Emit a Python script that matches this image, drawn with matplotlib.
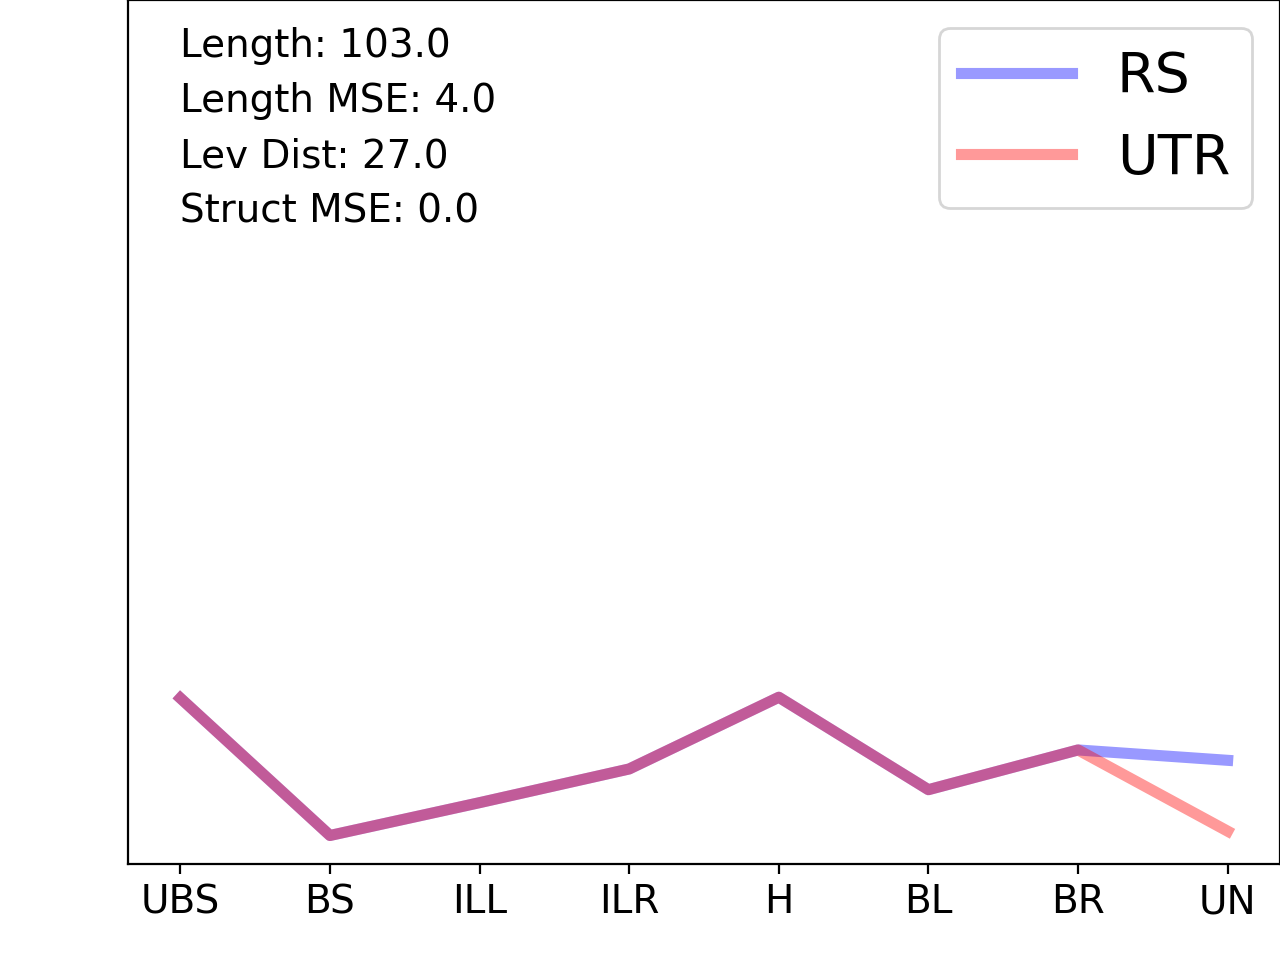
import numpy as np
import matplotlib
matplotlib.use("Agg")
import matplotlib.pyplot as plt

# ─── DATA ─────────────────────────────────────────────────────
categories = ["UBS", "BS", "ILL", "ILR", "H", "BL", "BR", "UN"]
rs_values  = [0.192, 0.033, 0.071, 0.110, 0.193, 0.086, 0.132, 0.120]
utr_values = [0.192, 0.033, 0.071, 0.110, 0.193, 0.086, 0.132, 0.038]

stats_text = "Length: 103.0\nLength MSE: 4.0\nLev Dist: 27.0\nStruct MSE: 0.0"
# ──────────────────────────────────────────────────────────────

fig, ax = plt.subplots(figsize=(6.4, 4.8), dpi=200)
fig.subplots_adjust(left=0.1, right=1.0, top=1.0, bottom=0.1)

x = np.arange(len(categories))
ax.plot(x, rs_values, color="blue", alpha=0.4, linewidth=4, label="RS")
ax.plot(x, utr_values, color="red", alpha=0.4, linewidth=4, label="UTR")

ax.set_ylim(0, 1)
ax.set_yticks([])
ax.set_xticks(x)
ax.set_xticklabels(categories, fontsize=14)

# stats block in the top left, x tied to the first category
ax.text(0, 0.969, stats_text, fontsize=14, va="top", ha="left",
        linespacing=1.58, transform=ax.get_xaxis_transform())

ax.legend(loc="upper right", fontsize=20)

fig.savefig("out.png", dpi=200)
